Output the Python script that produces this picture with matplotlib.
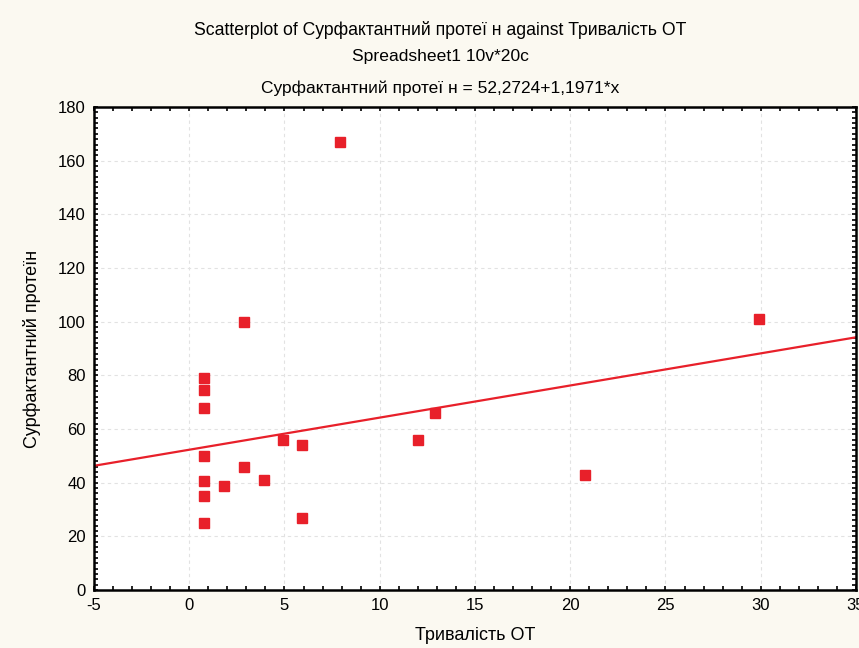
import matplotlib.pyplot as plt
import numpy as np
from matplotlib.ticker import MultipleLocator

# Тривалість ОТ vs Сурфактантний протеїн
duration = [0.8, 0.8, 0.8, 0.8, 0.8, 0.8, 0.8, 1.8, 2.9, 2.9, 3.9, 4.9, 5.9, 5.9, 7.9,
            12.0, 12.9, 20.8, 29.9]
protein = [79, 74.5, 68, 50, 40.6, 35, 25, 38.8, 46, 100, 41, 56, 54, 27, 167, 56, 66, 43, 101]

# regression from the chart header
intercept = 52.2724
slope = 1.1971

x_lim = (-5, 35)
y_lim = (0, 180)

red = "#e8202a"
bg = "#fbf9f1"

plt.rcParams["font.family"] = ["Liberation Sans", "DejaVu Sans"]
plt.rcParams["axes.unicode_minus"] = False

fig = plt.figure(figsize=(8.59, 6.48), dpi=100, facecolor=bg)
ax = fig.add_axes([0.1094, 0.0895, 0.8871, 0.7454])
ax.set_facecolor("white")

ax.plot(duration, protein, "s", color=red, markersize=6.5, zorder=3)
xx = np.array(x_lim)
ax.plot(xx, intercept + slope * xx, color=red, lw=1.6, zorder=2)

ax.set_xlim(*x_lim)
ax.set_ylim(*y_lim)
ax.xaxis.set_major_locator(MultipleLocator(5))
ax.xaxis.set_minor_locator(MultipleLocator(1))
ax.yaxis.set_major_locator(MultipleLocator(20))
ax.yaxis.set_minor_locator(MultipleLocator(2))
ax.tick_params(which="both", direction="in", top=True, right=True, length=3, width=1.2,
               labelsize=12, pad=6)
ax.grid(True, which="major", color="#e2e2e2", ls=(0, (3, 3)), lw=0.8)
for s in ax.spines.values():
    s.set_linewidth(1.8)

ax.set_xlabel("Тривалість ОТ", fontsize=13, labelpad=10)
ax.set_ylabel("Сурфактантний протеїн", fontsize=13, labelpad=12)

fig.text(0.513, 0.953, "Scatterplot of Сурфактантний протеї н against Тривалість ОТ",
         ha="center", va="center", fontsize=12.7)
fig.text(0.513, 0.913, "Spreadsheet1 10v*20c", ha="center", va="center", fontsize=12.6)
fig.text(0.513, 0.864, "Сурфактантний протеї н = 52,2724+1,1971*x",
         ha="center", va="center", fontsize=12.5)

fig.savefig("out.png", dpi=100, facecolor=bg)
